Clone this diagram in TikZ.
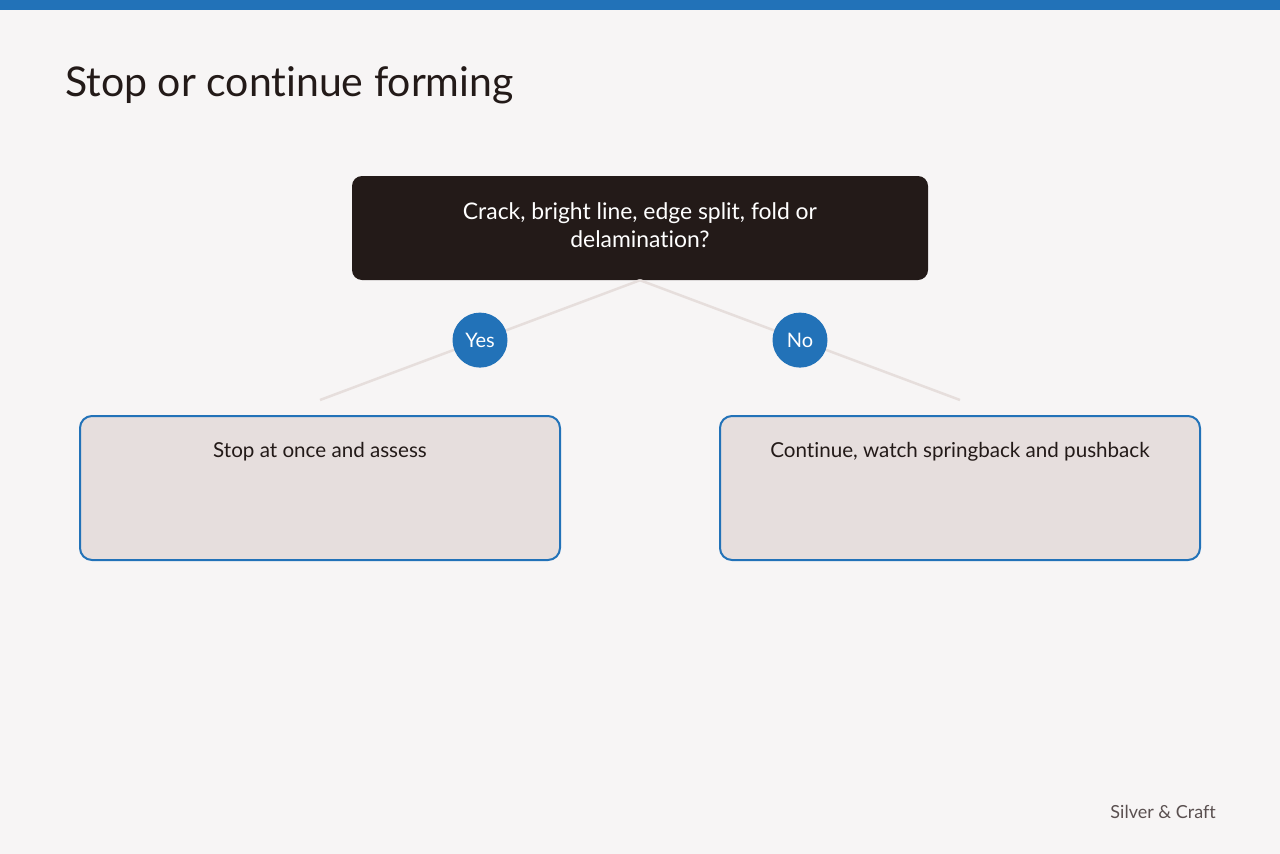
\documentclass[tikz,border=0pt]{standalone}
\usepackage{fontspec}
\setmainfont{Lato}[Ligatures=NoCommon]
\usetikzlibrary{positioning}

\definecolor{pagebg}{HTML}{F7F5F5}
\definecolor{barblue}{HTML}{2272B8}
\definecolor{darkbox}{HTML}{231A18}
\definecolor{paleline}{HTML}{E6DEDC}
\definecolor{palebox}{HTML}{E6DEDD}
\definecolor{inktext}{HTML}{231A18}
\definecolor{footgrey}{HTML}{5A5050}

\tikzset{
	question/.style={draw=none,fill=darkbox,rounded corners=10pt,minimum width=576pt,
		minimum height=104pt,text=white,align=center,font=\fontsize{22.9}{28}\selectfont},
	outcome/.style={draw=barblue,line width=2pt,fill=palebox,rounded corners=12pt,
		minimum width=480pt,minimum height=144pt},
	outtext/.style={text=inktext,font=\fontsize{20.6}{24}\selectfont},
	choice/.style={circle,fill=barblue,minimum size=55pt,inner sep=0pt,text=white,
		font=\fontsize{20}{24}\selectfont},
	link/.style={draw=paleline,line width=2.5pt}
}

\begin{document}
\begin{tikzpicture}[x=1pt,y=-1pt]
	\useasboundingbox (0,0) rectangle (1280,854);
	\fill[pagebg] (0,0) rectangle (1280,854);
	\fill[barblue] (0,0) rectangle (1280,10);

	\node[anchor=base west,text=inktext,font=\fontsize{41}{48}\selectfont,inner sep=0pt]
		(title) at (65,96) {Stop or continue forming};

	\node[question] (q) at (640,228) {};
	\node[text=white,align=center,font=\fontsize{22.9}{28}\selectfont] (qtxt) at (640,225)
		{Crack, bright line, edge split, fold or\\delamination?};

	\node[outcome] (stop) at (320,488) {};
	\node[outcome] (cont) at (960,488) {};
	\node[outtext,below=37pt of stop.north,anchor=center] (stoptxt) {Stop at once and assess};
	\node[outtext,below=37pt of cont.north,anchor=center] (conttxt) {Continue, watch springback and pushback};

	\coordinate (stopend) at (320,400);
	\coordinate (contend) at (960,400);

	\path[link] (q.south) -- node[choice] (yes) {Yes} (stopend);
	\path[link] (q.south) -- node[choice] (no) {No} (contend);

	\node[anchor=base east,text=footgrey,font=\fontsize{18}{22}\selectfont,inner sep=0pt]
		(foot) at (1216,818) {Silver \& Craft};
\end{tikzpicture}
\end{document}
